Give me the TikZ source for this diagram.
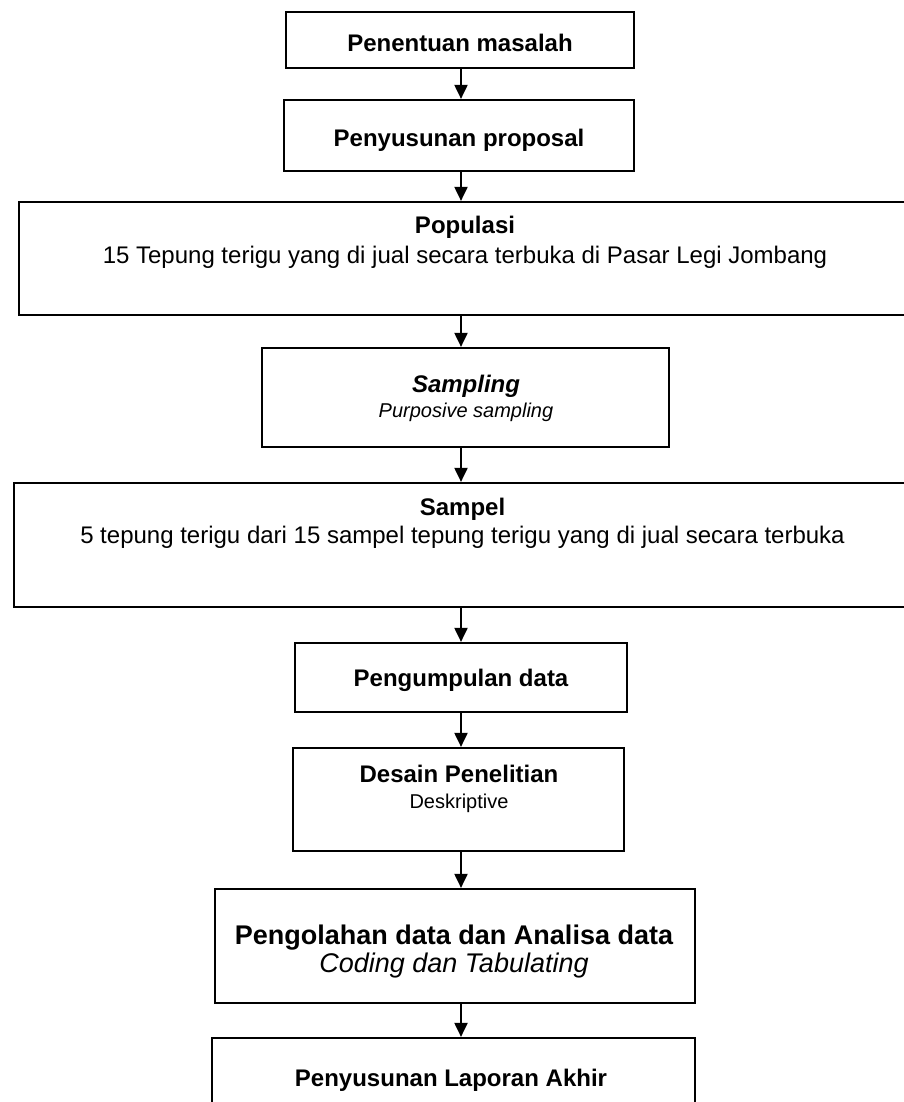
\documentclass[tikz,border=0pt]{standalone}
\usepackage{fontspec}
\setmainfont{Liberation Sans}
\usetikzlibrary{arrows.meta}
\tikzset{
  box/.style={draw, line width=2.2pt, inner sep=0pt},
  lbl/.style={anchor=base, inner sep=0pt, font=\fontsize{24}{28}\selectfont},
  sml/.style={anchor=base, inner sep=0pt, font=\fontsize{20}{24}\selectfont},
  big/.style={anchor=base, inner sep=0pt, font=\fontsize{27}{32}\selectfont},
  arr/.style={line width=2pt, -{Triangle[width=13pt,length=14pt]}}
}
\begin{document}
\begin{tikzpicture}[x=1pt,y=-1pt]
\useasboundingbox (0,0) rectangle (904,1102);
\clip (0,0) rectangle (904,1102);
% boxes
\node[box, minimum width=348pt, minimum height=56pt] (masalah) at (460,40) {};
\node[box, minimum width=350pt, minimum height=71pt] (proposal) at (459,135.5) {};
\node[box, minimum width=896pt, minimum height=113pt] (populasi) at (467,258.5) {};
\node[box, minimum width=407pt, minimum height=99pt] (sampling) at (465.5,397.5) {};
\node[box, minimum width=901pt, minimum height=124pt] (sampel) at (464.5,545) {};
\node[box, minimum width=332pt, minimum height=69pt] (kumpul) at (461,677.5) {};
\node[box, minimum width=331pt, minimum height=103pt] (desain) at (458.5,799.5) {};
\node[box, minimum width=480pt, minimum height=114pt] (olah) at (455,946) {};
\node[box, minimum width=483pt, minimum height=90pt] (laporan) at (453.5,1083) {};
% texts
\node[lbl] (masalahT) at (460,51.5) {\bfseries Penentuan masalah};
\node[lbl] (proposalT) at (459,146.5) {\bfseries Penyusunan proposal};
\node[lbl] (populasiH) at (465,233) {\bfseries Populasi};
\node[lbl] (populasiT) at (465,263) {15 Tepung terigu yang di jual secara terbuka di Pasar Legi Jombang};
\node[lbl] (samplingH) at (466,392) {\bfseries\itshape Sampling};
\node[sml] (samplingT) at (466,417) {\itshape Purposive sampling};
\node[lbl] (sampelH) at (462.5,515) {\bfseries Sampel};
\node[lbl] (sampelT) at (462.5,543) {5 tepung terigu dari 15 sampel tepung terigu yang di jual secara terbuka};
\node[lbl] (kumpulT) at (461,686) {\bfseries Pengumpulan data};
\node[lbl] (desainH) at (459,782) {\bfseries Desain Penelitian};
\node[sml] (desainT) at (459,808) {Deskriptive};
\node[big] (olahH) at (454,944) {\bfseries Pengolahan data dan Analisa data};
\node[big] (olahT) at (454,972) {\itshape Coding dan Tabulating};
\node[lbl] (laporanT) at (451,1086) {\bfseries Penyusunan Laporan Akhir};
% arrows
\coordinate (ax) at (461,0);
\foreach \a/\b in {masalah/proposal, proposal/populasi, populasi/sampling, sampling/sampel,
  sampel/kumpul, kumpul/desain, desain/olah, olah/laporan}
  \draw[arr] (\a.south -| ax) -- (\b.north -| ax);
\end{tikzpicture}
\end{document}
